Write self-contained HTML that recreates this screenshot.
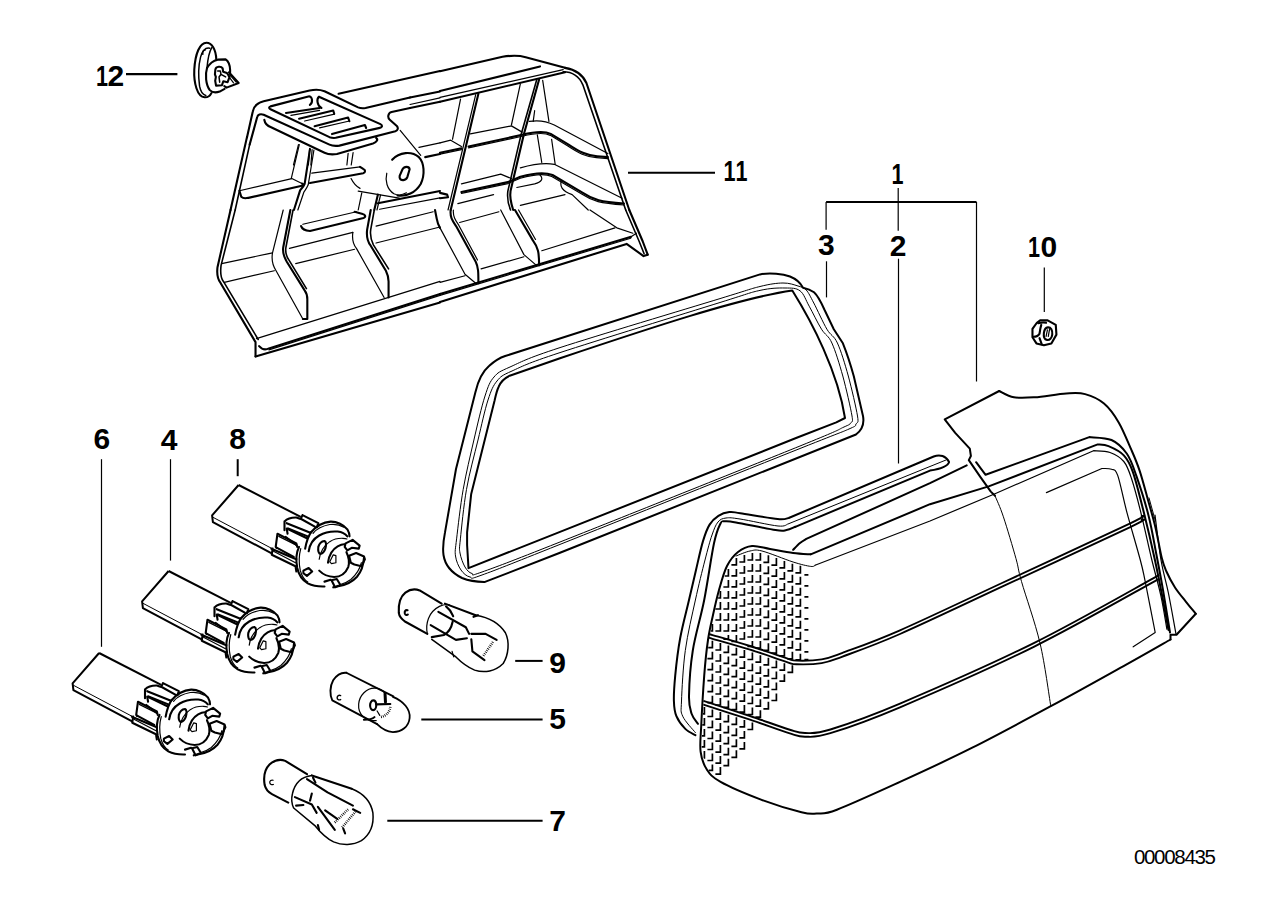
<!DOCTYPE html>
<html><head><meta charset="utf-8"><style>
html,body{margin:0;padding:0;background:#fff;}
body{width:1288px;height:910px;overflow:hidden;}
svg{display:block;}
</style></head><body>
<svg width="1288" height="910" viewBox="0 0 1288 910">
<rect width="1288" height="910" fill="#fff"/>
<g font-family="Liberation Sans" font-weight="bold" font-size="30" fill="#000" text-anchor="middle">
<text transform="translate(102.10,86) scale(0.72,1)">1</text>
<text transform="translate(115.90,86) scale(1,1)">2</text>
<text transform="translate(729.60,181) scale(0.72,1)">1</text>
<text transform="translate(741.50,181) scale(0.72,1)">1</text>
<text transform="translate(897.50,183.9) scale(0.72,1)">1</text>
<text transform="translate(826.40,254.6) scale(1,1)">3</text>
<text transform="translate(898.20,256) scale(1,1)">2</text>
<text transform="translate(1034.00,257) scale(0.72,1)">1</text>
<text transform="translate(1048.80,257) scale(1,1)">0</text>
<text transform="translate(101.90,449.2) scale(1,1)">6</text>
<text transform="translate(169.20,450) scale(1,1)">4</text>
<text transform="translate(237.70,448.9) scale(1,1)">8</text>
<text transform="translate(557.60,672.5) scale(1,1)">9</text>
<text transform="translate(557.60,729) scale(1,1)">5</text>
<text transform="translate(557.50,831.2) scale(1,1)">7</text>
</g>
<text x="1133.9" y="863.8" font-family="Liberation Sans" font-size="20.5" letter-spacing="-1.3" fill="#000">00008435</text>
<g stroke="#000" fill="none" stroke-width="2">
<line x1="126" y1="74.2" x2="177.4" y2="74.2" stroke-width="2.2"/>
<line x1="628" y1="172.7" x2="715" y2="172.7" stroke-width="2"/>
<line x1="898.2" y1="187.9" x2="898.2" y2="230.7" stroke-width="1.2"/>
<line x1="826.1" y1="202.1" x2="976.5" y2="202.1" stroke-width="2"/>
<line x1="826.1" y1="202" x2="826.1" y2="229.7" stroke-width="1.2"/>
<line x1="976.5" y1="202" x2="976.5" y2="381.5" stroke-width="1.2"/>
<line x1="826.5" y1="261.3" x2="826.5" y2="297.4" stroke-width="1.2"/>
<line x1="898.5" y1="258.7" x2="898.5" y2="463.5" stroke-width="1.2"/>
<line x1="1044.3" y1="267.4" x2="1044.3" y2="312" stroke-width="1.2"/>
<line x1="101.5" y1="459.2" x2="101.5" y2="646.8" stroke-width="1.2"/>
<line x1="170.5" y1="459.2" x2="170.5" y2="560.6" stroke-width="1.2"/>
<line x1="237.7" y1="459.2" x2="237.7" y2="476.2" stroke-width="2"/>
<line x1="515.2" y1="660.9" x2="542.6" y2="660.9" stroke-width="2"/>
<line x1="421.3" y1="719.6" x2="542.6" y2="719.6" stroke-width="2"/>
<line x1="387.3" y1="820.7" x2="542.6" y2="820.7" stroke-width="2"/>
</g>
<g fill="none" stroke="#000" stroke-linejoin="round">
<path d="M505.2,356 L760,274.4 C770,272.5 783,274 790,276.5 C795,278.5 800,282 803,287.7 C807,288.5 811,290 814,292.3 C817,295 821,302 824.6,310 L833.8,329.2 L842.9,343.3 C848,356 851,366 853.8,376.3 L863,416 C864.5,424 862,430 856,434.5 L560,552.8 L485,581.9 C475,582 468,580.5 462,578 C452,573 445,565 443.5,555 C442.5,548 443.5,540 445,532.4 L456,469 L475.4,392.2 C478,381 482,372 489,366 C494,361.5 499,358 505.2,356 Z" stroke-width="2"/>
<path d="M509.7,375.7 L560,358.2 C650,328 740,298 792.3,290.5 C812,322 838,372 845,418 L836.3,422.4 L796.7,437.8 L560,531.9 L468.5,568.1 L467.1,545 L467.1,532.4 L471.2,493.9 L494.6,400.5 C496,394 497,390 498.7,386.7 C501,381 505,378 509.7,375.7 Z" stroke-width="2"/>
<path d="M456.6,538.9 C457.9,527.8 460.3,505.9 463.2,489.4 C466.1,472.9 470.3,455.6 473.9,440.0 C477.5,424.4 481.6,406.5 485.0,396.0 C488.4,385.5 489.8,381.8 494.0,377.0 C498.2,372.2 499.0,371.9 510.0,367.0 C521.0,362.1 525.0,359.0 560.0,347.6 C595.0,336.2 686.7,308.8 720.0,298.6 C753.3,288.4 749.5,289.1 760.0,286.5 C770.5,283.9 776.7,283.1 783.0,283.0 C789.3,282.9 794.1,284.8 798.0,286.0 C801.9,287.2 803.6,287.2 806.2,290.0 C808.8,292.8 810.3,296.5 813.8,303.0 C817.2,309.5 823.0,322.5 826.9,329.2 C830.8,335.9 833.8,335.2 837.4,343.0 C841.0,350.8 844.9,363.8 848.3,376.0 C851.6,388.2 856.2,408.0 857.5,416.0 C858.8,424.0 857.4,421.8 856.0,424.0 C854.6,426.2 858.3,424.9 849.0,429.0 C839.7,433.1 848.2,429.3 800.0,448.5 C751.8,467.7 613.0,523.3 560.0,544.4 C507.0,565.5 497.0,569.6 482.0,575.0 C467.0,580.4 473.5,577.8 470.0,577.0 C466.5,576.2 463.4,573.5 461.0,570.0 C458.6,566.5 456.2,561.2 455.5,556.0 C454.8,550.8 455.3,550.0 456.6,538.9Z" stroke-width="1"/>
<path d="M460.4,538.9 C461.5,528.3 463.6,505.9 466.5,489.4 C469.4,472.9 474.4,454.9 478.0,440.0 C481.6,425.1 484.8,409.8 488.0,400.0 C491.2,390.2 493.0,385.8 497.0,381.0 C501.0,376.2 501.5,375.7 512.0,371.0 C522.5,366.3 525.3,364.0 560.0,352.6 C594.7,341.2 686.7,312.9 720.0,302.5 C753.3,292.1 749.2,292.8 760.0,290.4 C770.8,288.0 778.3,287.9 785.0,288.0 C791.7,288.1 796.0,287.8 800.0,290.8 C804.0,293.8 805.6,299.8 809.2,306.2 C812.8,312.6 817.7,323.1 821.5,329.2 C825.3,335.3 828.4,335.2 831.9,343.0 C835.4,350.8 839.4,363.8 842.8,376.0 C846.1,388.2 850.7,408.2 852.0,416.0 C853.3,423.8 851.8,421.2 850.5,423.0 C849.2,424.8 852.4,423.2 844.0,427.0 C835.6,430.8 847.3,426.8 800.0,446.0 C752.7,465.2 613.0,521.0 560.0,542.0 C507.0,563.0 496.7,566.8 482.0,572.0 C467.3,577.2 474.8,574.3 472.0,573.5 C469.2,572.7 467.0,570.4 465.0,567.0 C463.0,563.6 460.8,557.7 460.0,553.0 C459.2,548.3 459.3,549.5 460.4,538.9Z" stroke-width="1"/>
</g>
<g fill="none" stroke="#000" stroke-linejoin="round" stroke-linecap="round">
<path d="M810.7,554.3 C807.8,554.1 799.9,553.9 793.1,553.0 C786.3,552.1 776.9,550.2 770.0,549.0 C763.1,547.8 757.3,545.5 752.0,546.0 C746.7,546.5 742.2,548.7 738.0,552.0 C733.8,555.3 730.2,559.7 727.0,566.0 C723.8,572.3 721.3,581.8 719.0,590.0 C716.7,598.2 714.8,606.7 713.0,615.0 C711.2,623.3 709.5,629.9 708.0,640.0 C706.5,650.1 705.3,661.4 704.2,675.8 C703.1,690.2 701.8,713.7 701.2,726.3 C700.6,738.9 699.7,744.4 700.6,751.6 C701.5,758.8 703.4,764.2 706.7,769.3 C710.0,774.3 711.6,776.8 720.6,781.9 C729.6,787.0 747.5,794.5 761.0,799.6 C774.5,804.7 792.2,809.9 801.5,812.2 C810.8,814.5 810.7,813.9 816.6,813.5 C822.5,813.1 823.0,815.0 836.9,809.7 C850.8,804.4 877.4,792.2 900.0,781.9 C922.6,771.6 947.2,760.3 972.3,747.7 C997.4,735.1 1025.1,720.1 1050.8,706.2 C1076.5,692.4 1106.2,675.7 1126.2,664.6 C1146.2,653.5 1163.1,643.7 1170.5,639.5" stroke-width="2"/>
<path d="M1170.5,639.5 L1170.5,634.7 L1176.5,634.7 L1195.8,613.8" stroke-width="2"/>
<path d="M1195.8,613.8 C1194.2,611.8 1189.5,606.2 1186.0,601.8 C1182.5,597.4 1178.3,592.6 1175.0,587.5 C1171.7,582.4 1168.4,575.9 1166.2,571.0 C1164.0,566.1 1163.6,565.3 1161.8,558.0 C1160.0,550.7 1157.7,536.9 1155.4,527.2 C1153.1,517.5 1150.6,509.4 1148.0,500.0 C1145.4,490.6 1142.4,479.0 1139.6,470.6 C1136.8,462.2 1134.8,457.7 1131.3,449.7 C1127.8,441.7 1123.2,430.1 1118.7,422.4 C1114.2,414.7 1109.6,408.2 1104.0,403.5 C1098.4,398.8 1091.4,395.8 1085.1,394.1 C1078.8,392.4 1074.7,393.0 1066.3,393.5 C1057.9,394.0 1043.5,396.7 1034.8,397.3 C1026.1,397.9 1019.8,398.4 1013.9,397.3 C1008.0,396.2 1001.7,392.1 999.2,391.0" stroke-width="2"/>
<path d="M999.2,391.0 L944.7,419.3 L955.2,432.9 L969.8,448.6 L970.9,456.0 L968.8,460.1 L980.3,476.9 L990.8,491.6 L995.0,495.8" stroke-width="2"/>
<path d="M995.0,495.8 C996.4,499.3 999.9,506.3 1003.4,516.8 C1006.9,527.3 1013.0,547.9 1016.0,558.7 C1019.0,569.5 1017.5,567.4 1021.5,581.5 C1025.5,595.6 1035.1,622.3 1040.0,643.1 C1044.9,663.9 1049.0,695.7 1050.8,706.2" stroke-width="1"/>
<path d="M793.1,549.9 C794.2,548.8 797.8,544.8 800.0,543.0 C802.2,541.2 805.2,539.6 806.3,538.9 L930,483.2 L966.7,465.4" stroke-width="2"/>
<path d="M976.1,462.2 L985.6,474.8 L1089.3,437.1  C1093.0,437.6 1105.2,437.2 1111.5,440.0 C1117.8,442.8 1122.8,447.9 1126.9,453.8 C1131.0,459.7 1132.6,465.1 1136.2,475.4 C1139.8,485.7 1145.1,502.1 1148.5,515.4 C1151.9,528.7 1154.1,542.6 1156.5,555.0 C1158.9,567.4 1160.8,577.1 1163.0,590.0 C1165.2,602.9 1168.8,625.4 1170.0,632.5" stroke-width="2"/>
<path d="M810.7,554.3 L930,504.2 L988.7,486.4 L1097.7,444.4  C1099.5,444.7 1104.2,444.4 1108.5,446.2 C1112.8,448.0 1119.7,451.0 1123.8,455.4 C1127.9,459.8 1129.7,462.8 1133.0,472.3 C1136.3,481.8 1140.2,497.9 1143.8,512.3 C1147.4,526.7 1151.6,544.7 1154.6,558.5 C1157.6,572.3 1159.7,583.1 1162.0,595.0 C1164.3,606.9 1167.4,624.2 1168.5,630.0" stroke-width="2"/>
<path d="M815,565.3 L930,521 L995,493.7 L1093.5,450.7  C1096.2,451.0 1105.0,450.7 1110.0,452.5 C1115.0,454.3 1120.2,457.2 1123.8,461.5 C1127.4,465.8 1128.7,470.0 1131.5,478.5 C1134.3,487.0 1137.5,499.0 1140.8,512.3 C1144.1,525.6 1148.2,544.6 1151.5,558.5 C1154.8,572.4 1158.2,583.6 1160.8,595.4 C1163.4,607.2 1165.9,623.6 1166.9,629.2" stroke-width="1.2"/>
<path d="M1155.0,515.0 C1156.0,522.5 1158.8,547.0 1161.0,560.0 C1163.2,573.0 1165.9,580.7 1168.4,593.0 C1170.9,605.3 1174.7,627.2 1176.0,634.0" stroke-width="1.2"/>
<path d="M1046.4,492.6 L1101.9,468.5  C1103.5,468.6 1108.9,468.1 1111.5,469.2 C1114.1,470.3 1115.1,468.2 1117.7,475.4 C1120.3,482.6 1123.1,498.2 1126.9,512.3 C1130.7,526.4 1137.2,548.4 1140.3,560.0 C1143.4,571.6 1142.8,569.9 1145.3,582.0 C1147.8,594.1 1153.5,624.1 1155.2,632.5 L1133.2,646.8" stroke-width="1.2"/>
<path d="M1149,497.9 L1155.4,521" stroke-width="1"/>
<path d="M736.0,556.0 C738.3,555.2 745.7,551.8 750.0,551.0 C754.3,550.2 754.8,549.2 762.0,551.0 C769.2,552.8 785.0,559.4 793.1,562.0 C801.2,564.6 807.1,565.9 810.7,566.4 C814.4,566.9 814.3,565.5 815.0,565.3" stroke-width="1"/>
<path d="M709.3,634.1 C716.1,636.1 737.2,642.0 750.0,646.0 C762.8,650.0 778.6,655.7 786.3,658.1 C794.0,660.5 790.5,660.4 796.4,660.6 C802.3,660.8 814.1,660.6 821.7,659.4 C829.3,658.1 828.9,658.0 841.9,653.1 C854.9,648.2 873.1,642.1 900.0,630.3 C926.9,618.5 964.6,600.4 1003.1,582.5 C1041.6,564.6 1107.7,534.2 1130.8,523.1 C1153.9,512.0 1139.9,517.2 1141.7,516.0" stroke-width="1.9"/>
<path d="M709.3,637.8 C716.1,639.8 737.2,645.7 750.0,649.7 C762.8,653.7 778.6,659.4 786.3,661.8 C794.0,664.2 790.5,664.1 796.4,664.3 C802.3,664.5 814.1,664.4 821.7,663.1 C829.3,661.9 828.9,661.7 841.9,656.8 C854.9,652.0 873.1,645.8 900.0,634.0 C926.9,622.2 964.6,604.1 1003.1,586.2 C1041.6,568.3 1107.7,537.9 1130.8,526.8 C1153.9,515.7 1139.9,520.9 1141.7,519.7" stroke-width="1.9"/>
<path d="M704.2,701.1 C711.8,703.6 735.9,711.3 750.0,716.0 C764.1,720.7 779.8,726.7 789.0,729.5 C798.2,732.3 798.1,733.0 805.0,733.0 C811.9,733.0 814.6,734.4 830.4,729.5 C846.2,724.6 866.1,718.0 900.0,703.6 C933.9,689.2 990.7,664.5 1033.8,643.1 C1076.9,621.7 1137.7,586.7 1158.5,575.4" stroke-width="1.9"/>
<path d="M704.2,704.8 C711.8,707.3 735.9,715.0 750.0,719.7 C764.1,724.4 779.8,730.4 789.0,733.2 C798.2,736.0 798.1,736.7 805.0,736.7 C811.9,736.7 814.6,738.1 830.4,733.2 C846.2,728.3 866.1,721.7 900.0,707.3 C933.9,692.9 990.7,668.2 1033.8,646.8 C1076.9,625.4 1137.7,590.4 1158.5,579.1" stroke-width="1.9"/>
<path d="M695.4,735.2 C693.7,734.2 688.5,732.1 685.3,728.9 C682.1,725.7 678.3,720.9 676.4,716.2 C674.5,711.6 674.1,707.7 673.9,701.0 C673.7,694.3 674.2,686.3 675.2,675.8 C676.2,665.3 677.9,650.6 680.2,638.0 C682.5,625.4 686.4,611.3 689.0,600.0 C691.6,588.7 693.7,579.8 696.0,570.0 C698.3,560.2 700.7,548.7 703.0,541.1 C705.3,533.5 707.0,528.8 709.6,524.6 C712.2,520.4 715.1,517.9 718.4,515.8 C721.7,513.7 725.6,512.5 729.3,512.1 C732.9,511.7 732.2,512.0 740.3,513.2 C748.4,514.4 769.6,518.3 777.7,519.1 C785.8,519.9 786.9,518.2 788.7,518.0 L933.7,456.5 C940,454 946,456 949.1,462 C948,466 940,469 930,470.6 L795.3,526.8" stroke-width="2"/>
<path d="M695.4,732.6 C693.3,729.9 685.0,721.5 682.7,716.2 C680.4,710.9 681.1,712.0 681.5,701.0 C681.9,690.0 683.0,667.3 685.3,650.5 C687.6,633.7 692.1,615.1 695.4,600.0 C698.7,584.9 702.2,570.8 705.0,560.0 C707.8,549.2 709.8,541.3 712.0,535.0 C714.2,528.7 715.7,524.8 718.0,522.0 C720.3,519.2 722.3,518.5 726.0,518.0 C729.7,517.5 731.3,517.7 740.0,519.0 C748.7,520.3 770.0,525.2 778.0,526.0 C786.0,526.8 786.3,524.3 788.0,524.0 L946,460" stroke-width="1"/>
<path d="M697.9,723.8 C696.9,722.1 693.1,718.3 691.6,713.7 C690.1,709.1 688.8,706.5 689.0,696.0 C689.2,685.5 690.3,666.5 692.8,650.5 C695.3,634.5 700.7,617.9 704.2,600.0 C707.7,582.1 711.3,556.0 714.0,543.3 C716.7,530.5 718.7,527.2 720.5,523.5 C722.3,519.8 722.4,521.5 725.0,521.3 C727.6,521.1 727.6,520.9 736.0,522.4 C744.4,523.9 767.1,528.8 775.5,530.1 C783.9,531.4 783.2,530.7 786.5,530.1 C789.8,529.5 793.8,527.3 795.3,526.8" stroke-width="2"/>
</g>
<path d="M704.4,706.9V713.9H702.9M704.4,717.9V724.9H702.3M704.4,728.9V735.9H702.0M704.4,739.9V746.9H701.7M704.4,750.9V757.9H703.8M712.4,624.0V631.0H710.8M712.4,640.7V647.7H708.2M712.4,651.7V658.7H707.4M712.4,662.7V669.7H707.4M712.4,673.7V680.7H707.4M712.4,684.7V691.7H707.4M712.4,695.7V702.7H707.4M712.4,709.5V716.5H707.4M712.4,720.5V727.5H707.4M712.4,731.5V738.5H707.4M712.4,742.5V749.5H707.4M712.4,753.5V760.5H707.4M712.4,764.5V770.3H708.8M720.4,591.0V598.0H718.1M720.4,602.0V609.0H715.4M720.4,613.0V620.0H715.4M720.4,624.0V631.0H715.4M720.4,643.0V650.0H715.4M720.4,654.0V661.0H715.4M720.4,665.0V672.0H715.4M720.4,676.0V683.0H715.4M720.4,687.0V694.0H715.4M720.4,698.0V705.0H715.4M720.4,712.1V719.1H715.4M720.4,723.1V730.1H715.4M720.4,734.1V741.1H715.4M720.4,745.1V752.1H715.4M720.4,756.1V763.1H715.4M720.4,767.1V774.1H715.4M728.4,569.0V576.0H724.7M728.4,580.0V587.0H723.4M728.4,591.0V598.0H723.4M728.4,602.0V609.0H723.4M728.4,613.0V620.0H723.4M728.4,624.0V631.0H723.4M728.4,635.0V639.2H723.4M728.4,645.4V652.4H723.4M728.4,656.4V663.4H723.4M728.4,667.4V674.4H723.4M728.4,678.4V685.4H723.4M728.4,689.4V696.4H723.4M728.4,700.4V707.4H723.4M728.4,714.7V721.7H723.4M728.4,725.7V732.7H723.4M728.4,736.7V743.7H723.4M728.4,747.7V754.7H723.4M728.4,758.7V765.7H723.4M736.4,557.9V564.9H731.4M736.4,568.9V575.9H731.4M736.4,579.9V586.9H731.4M736.4,590.9V597.9H731.4M736.4,601.9V608.9H731.4M736.4,612.9V619.9H731.4M736.4,623.9V630.9H731.4M736.4,634.9V641.5H731.4M736.4,647.7V654.7H731.4M736.4,658.7V665.7H731.4M736.4,669.7V676.7H731.4M736.4,680.7V687.7H731.4M736.4,691.7V698.7H731.4M736.4,702.7V709.7H731.4M736.4,717.3V724.3H731.4M736.4,728.3V735.3H731.4M736.4,739.3V746.3H731.4M736.4,750.3V757.3H731.4M744.4,555.0V562.0H739.4M744.4,566.0V573.0H739.4M744.4,577.0V584.0H739.4M744.4,588.0V595.0H739.4M744.4,599.0V606.0H739.4M744.4,610.0V617.0H739.4M744.4,621.0V628.0H739.4M744.4,632.0V639.0H739.4M744.4,650.1V657.1H739.4M744.4,661.1V668.1H739.4M744.4,672.1V679.1H739.4M744.4,683.1V690.1H739.4M744.4,694.1V701.1H739.4M744.4,705.1V712.1H739.4M744.4,719.9V726.9H739.4M744.4,730.9V737.9H739.4M744.4,741.9V748.9H739.4M752.4,553.0V560.0H747.4M752.4,564.0V571.0H747.4M752.4,575.0V582.0H747.4M752.4,586.0V593.0H747.4M752.4,597.0V604.0H747.4M752.4,608.0V615.0H747.4M752.4,619.0V626.0H747.4M752.4,630.0V637.0H747.4M752.4,641.0V646.3H747.4M752.4,652.5V659.5H747.4M752.4,663.5V670.5H747.4M752.4,674.5V681.5H747.4M752.4,685.5V692.5H747.4M752.4,696.5V703.5H747.4M752.4,707.5V714.5H747.4M752.4,722.5V729.5H747.4M760.4,553.0V560.0H755.4M760.4,564.0V571.0H755.4M760.4,575.0V582.0H755.4M760.4,586.0V593.0H755.4M760.4,597.0V604.0H755.4M760.4,608.0V615.0H755.4M760.4,619.0V626.0H755.4M760.4,630.0V637.0H755.4M760.4,641.0V648.0H755.4M760.4,655.2V662.2H755.4M760.4,666.2V673.2H755.4M760.4,677.2V684.2H755.4M760.4,688.2V695.2H755.4M760.4,699.2V706.2H755.4M760.4,710.2V717.2H755.4M768.4,555.3V562.3H763.4M768.4,566.3V573.3H763.4M768.4,577.3V584.3H763.4M768.4,588.3V595.3H763.4M768.4,599.3V606.3H763.4M768.4,610.3V617.3H763.4M768.4,621.3V628.3H763.4M768.4,632.3V639.3H763.4M768.4,643.3V650.3H763.4M768.4,657.8V664.8H763.4M768.4,668.8V675.8H763.4M768.4,679.8V686.8H763.4M768.4,690.8V697.8H763.4M768.4,701.8V708.8H763.4M776.4,558.1V565.1H771.4M776.4,569.1V576.1H771.4M776.4,580.1V587.1H771.4M776.4,591.1V598.1H771.4M776.4,602.1V609.1H771.4M776.4,613.1V620.1H771.4M776.4,624.1V631.1H771.4M776.4,635.1V642.1H771.4M776.4,646.1V653.1H771.4M776.4,660.5V667.5H771.4M776.4,671.5V678.5H771.4M776.4,682.5V689.5H771.4M776.4,693.5V700.5H771.4M784.4,560.9V567.9H779.4M784.4,571.9V578.9H779.4M784.4,582.9V589.9H779.4M784.4,593.9V600.9H779.4M784.4,604.9V611.9H779.4M784.4,615.9V622.9H779.4M784.4,626.9V633.9H779.4M784.4,637.9V644.9H779.4M784.4,648.9V655.9H779.4M784.4,663.2V670.2H779.4M784.4,674.2V681.2H779.4M792.4,563.8V570.8H787.4M792.4,574.8V581.8H787.4M792.4,585.8V592.8H787.4M792.4,596.8V603.8H787.4M792.4,607.8V614.8H787.4M792.4,618.8V625.8H787.4M792.4,629.8V636.8H787.4M792.4,640.8V647.8H787.4M792.4,651.8V658.8H787.4M792.4,665.3V672.3H787.4M800.4,565.8V572.8H795.4M800.4,576.8V583.8H795.4M800.4,587.8V594.8H795.4M800.4,598.8V605.8H795.4M800.4,609.8V616.8H795.4M800.4,620.8V627.8H795.4M800.4,631.8V638.8H795.4M800.4,642.8V649.8H795.4M800.4,653.8V659.9H795.4M804.4,574.8H808.4M804.4,585.8H808.4M804.4,596.8H808.4M804.4,607.8H808.4M804.4,618.8H808.4M804.4,629.8H808.4M804.4,640.8H808.4M804.4,651.8H808.4M804.4,659.5H808.4" fill="none" stroke="#000" stroke-width="1.7"/>
<g transform="translate(250,85) scale(0.124224)" fill="none" stroke="#000" stroke-linejoin="round" stroke-linecap="round">
<path d="M-24,420 L22,215 C30,170 60,142 110,130 L480,45 C520,35 560,35 600,50 L870,180 C890,188 910,188 930,185 L1288,100" stroke-width="2.1" vector-effect="non-scaling-stroke"/>
<path d="M-3,480 L58,258 C62,238 85,230 110,240 L640,480 C660,490 690,492 720,488 L1170,372 C1192,365 1195,345 1182,330 L1125,280 C1105,262 1110,225 1140,218 L1288,185" stroke-width="2.1" vector-effect="non-scaling-stroke"/>
<path d="M115,280 C120,310 140,330 170,340 L600,545 C630,560 670,560 700,555 L990,470 C1020,460 1035,440 1015,425" stroke-width="2.1" vector-effect="non-scaling-stroke"/>
<path d="M555,95 L1050,315 C1070,325 1065,342 1045,345 L690,425 C670,428 655,425 640,420 L165,195 C150,188 150,178 165,172 L470,92 C500,85 512,140 482,160" stroke-width="2.1" vector-effect="non-scaling-stroke"/>
<path d="M555,95 C535,110 538,165 575,185" stroke-width="2.1" vector-effect="non-scaling-stroke"/>
<path d="M290,225 L560,185 M395,272 L670,205 L678,232 M520,332 L790,262 L800,292 M660,395 L925,322 L935,346" stroke-width="2.1" vector-effect="non-scaling-stroke"/>
<path d="M330,245 L560,205 M440,290 L680,235 M560,345 L800,290" stroke-width="1.2" vector-effect="non-scaling-stroke"/>
<path d="M390,480 L350,644 M480,510 L470,644 M500,520 L490,644 M790,550 L780,644 M830,545 L815,644" stroke-width="1.2" vector-effect="non-scaling-stroke"/>
</g>
<g transform="translate(210,50) scale(0.178571)" fill="none" stroke="#000" stroke-linejoin="round" stroke-linecap="round">
<path d="M720,245 L1288,118" stroke-width="2.1" vector-effect="non-scaling-stroke"/>
<path d="M1120,266 L1288,232" stroke-width="2.1" vector-effect="non-scaling-stroke"/>
<path d="M1120,305 L1288,268" stroke-width="1.2" vector-effect="non-scaling-stroke"/>
<path d="M1120,325 L1288,290" stroke-width="2.1" vector-effect="non-scaling-stroke"/>
<path d="M207,488 L115,896" stroke-width="2.1" vector-effect="non-scaling-stroke"/>
<path d="M222,530 L141,896" stroke-width="1.6" vector-effect="non-scaling-stroke"/>
<path d="M165,788 L458,720 L515,748" stroke-width="1.2" vector-effect="non-scaling-stroke"/>
<path d="M165,788 L175,822 C185,832 200,832 215,828 L515,760 C525,758 525,750 515,748" stroke-width="2.1" vector-effect="non-scaling-stroke"/>
<path d="M500,530 L455,720" stroke-width="1.2" vector-effect="non-scaling-stroke"/>
<path d="M560,555 L530,750 C525,765 515,775 505,785 L470,896" stroke-width="2.1" vector-effect="non-scaling-stroke"/>
<path d="M582,560 L550,755 C542,775 532,785 526,795 L492,896" stroke-width="1.2" vector-effect="non-scaling-stroke"/>
<path d="M570,690 L840,655" stroke-width="1.2" vector-effect="non-scaling-stroke"/>
<path d="M560,745 L858,690 C872,686 872,670 858,666 L840,655" stroke-width="2.1" vector-effect="non-scaling-stroke"/>
<path d="M790,720 C800,740 820,765 840,775" stroke-width="1.2" vector-effect="non-scaling-stroke"/>
<path d="M1020,615 C1060,570 1130,565 1170,600 C1200,630 1205,700 1180,750 C1150,800 1100,822 1050,815" stroke-width="2.1" vector-effect="non-scaling-stroke"/>
<path d="M990,690 C980,730 990,780 1030,805 C1050,815 1080,812 1100,800" stroke-width="1.2" vector-effect="non-scaling-stroke"/>
<path d="M1062,705 L1078,668 C1088,650 1115,650 1118,668 L1105,712 C1098,732 1068,735 1062,715 Z" stroke-width="2.1" vector-effect="non-scaling-stroke"/>
<path d="M1065,450 L1180,590" stroke-width="1.2" vector-effect="non-scaling-stroke"/>
<path d="M1170,545 L1288,520" stroke-width="1.2" vector-effect="non-scaling-stroke"/>
<path d="M1205,600 L1288,582" stroke-width="2.1" vector-effect="non-scaling-stroke"/>
<path d="M940,858 L1288,790" stroke-width="2.1" vector-effect="non-scaling-stroke"/>
<path d="M950,892 L1288,828" stroke-width="1.2" vector-effect="non-scaling-stroke"/>
<path d="M830,790 L1060,830" stroke-width="1.2" vector-effect="non-scaling-stroke"/>
<path d="M850,800 L830,896" stroke-width="1.2" vector-effect="non-scaling-stroke"/>
<path d="M940,810 L920,896" stroke-width="2.1" vector-effect="non-scaling-stroke"/>
<path d="M955,812 L935,896" stroke-width="1.2" vector-effect="non-scaling-stroke"/>
</g>
<g transform="translate(440,50) scale(0.178571)" fill="none" stroke="#000" stroke-linejoin="round" stroke-linecap="round">
<path d="M0,119 L350,38 C400,30 450,32 480,40 L700,100" stroke-width="2.1" vector-effect="non-scaling-stroke"/>
<path d="M700,100 C760,110 800,140 820,185 L1060,896" stroke-width="2.1" vector-effect="non-scaling-stroke"/>
<path d="M690,122 C740,122 780,150 800,195 L1040,896" stroke-width="1.6" vector-effect="non-scaling-stroke"/>
<path d="M0,230 L560,92" stroke-width="2.1" vector-effect="non-scaling-stroke"/>
<path d="M0,265 L690,110" stroke-width="1.2" vector-effect="non-scaling-stroke"/>
<path d="M0,290 L700,125" stroke-width="2.1" vector-effect="non-scaling-stroke"/>
<path d="M215,245 L60,896" stroke-width="2.1" vector-effect="non-scaling-stroke"/>
<path d="M200,250 L45,896" stroke-width="1.2" vector-effect="non-scaling-stroke"/>
<path d="M555,165 L470,470 L395,790 C390,820 395,850 410,896" stroke-width="2.1" vector-effect="non-scaling-stroke"/>
<path d="M542,165 L455,470 L380,790 C375,830 380,860 395,896" stroke-width="1.6" vector-effect="non-scaling-stroke"/>
<path d="M115,275 L70,500 M450,190 L400,420 M575,170 L610,400 M530,340 L522,400 M545,475 L570,630 M625,500 L645,640" stroke-width="1.2" vector-effect="non-scaling-stroke"/>
<path d="M0,520 L60,505 L120,540 M170,470 L400,425 L460,460 M500,400 C560,390 600,400 640,420 L940,580" stroke-width="1.2" vector-effect="non-scaling-stroke"/>
<path d="M0,575 L120,550 M160,540 L460,475 C520,460 580,450 620,470 L720,530 C780,570 820,590 880,595 L940,600" stroke-width="2.1" vector-effect="non-scaling-stroke"/>
<path d="M0,583 L120,558 M160,548 L460,483 C520,468 580,458 618,478 L716,538 C776,578 816,598 876,603 L940,608" stroke-width="1.2" vector-effect="non-scaling-stroke"/>
<path d="M120,750 L340,695 L400,720 M450,660 C520,640 580,630 640,640 L1020,830" stroke-width="1.2" vector-effect="non-scaling-stroke"/>
<path d="M120,795 L380,740 L450,710 C520,690 580,680 630,700 L800,800 C860,840 900,850 1030,860" stroke-width="2.1" vector-effect="non-scaling-stroke"/>
<path d="M120,803 L380,748 L450,718 C520,698 580,688 626,708 L796,808 C856,848 896,858 1030,868" stroke-width="1.2" vector-effect="non-scaling-stroke"/>
<path d="M100,860 L300,810 M450,870 L700,810 M560,700 C580,720 570,740 530,750 L430,770 M680,730 C670,760 680,790 740,810 L830,896" stroke-width="1.2" vector-effect="non-scaling-stroke"/>
<path d="M0,800 L40,810 L45,825 L0,830" stroke-width="2.1" vector-effect="non-scaling-stroke"/>
</g>
<g transform="translate(210,210) scale(0.178571)" fill="none" stroke="#000" stroke-linejoin="round" stroke-linecap="round">
<path d="M115,0 L42,320 C37,360 45,390 60,410 L255,740 L255,820" stroke-width="2.1" vector-effect="non-scaling-stroke"/>
<path d="M141,0 L62,310 C57,350 60,380 75,400 L270,725" stroke-width="1.6" vector-effect="non-scaling-stroke"/>
<path d="M260,720 L1288,400" stroke-width="1.2" vector-effect="non-scaling-stroke"/>
<path d="M275,762 C290,780 310,785 330,775 L1288,470" stroke-width="2.1" vector-effect="non-scaling-stroke"/>
<path d="M330,783 L1288,478" stroke-width="1.2" vector-effect="non-scaling-stroke"/>
<path d="M255,820 L1288,518" stroke-width="2.1" vector-effect="non-scaling-stroke"/>
<path d="M65,300 L350,240 M80,405 L360,340 M445,215 L800,125 M480,300 L810,220 M930,90 L1250,10 M930,185 L1288,95" stroke-width="1.2" vector-effect="non-scaling-stroke"/>
<path d="M410,0 L350,240 C345,270 350,310 370,340 L520,610" stroke-width="1.2" vector-effect="non-scaling-stroke"/>
<path d="M450,0 L410,210 C405,250 420,270 430,290 L530,450 C545,470 545,480 545,500 L545,610 L520,610" stroke-width="2.1" vector-effect="non-scaling-stroke"/>
<path d="M465,0 L425,210 C420,245 430,265 445,285 L540,440" stroke-width="1.6" vector-effect="non-scaling-stroke"/>
<path d="M800,125 C795,160 800,190 820,215 L975,490" stroke-width="1.2" vector-effect="non-scaling-stroke"/>
<path d="M900,0 L880,110 C875,150 885,180 900,200 L985,340 C995,360 1000,380 1000,400 L1000,490" stroke-width="2.1" vector-effect="non-scaling-stroke"/>
<path d="M920,0 L900,110 C895,145 905,175 915,195 L1000,330" stroke-width="1.6" vector-effect="non-scaling-stroke"/>
<path d="M1260,0 L1270,50 C1275,80 1285,95 1288,100" stroke-width="2.1" vector-effect="non-scaling-stroke"/>
<path d="M510,90 C515,105 530,115 560,118 L860,45 C875,40 870,25 855,22 L810,10" stroke-width="2.1" vector-effect="non-scaling-stroke"/>
<path d="M520,80 L820,10" stroke-width="1.2" vector-effect="non-scaling-stroke"/>
</g>
<g transform="translate(440,210) scale(0.178571)" fill="none" stroke="#000" stroke-linejoin="round" stroke-linecap="round">
<path d="M0,405 L140,368" stroke-width="1.2" vector-effect="non-scaling-stroke"/>
<path d="M0,470 L1070,150" stroke-width="2.1" vector-effect="non-scaling-stroke"/>
<path d="M0,478 L1068,158" stroke-width="1.2" vector-effect="non-scaling-stroke"/>
<path d="M0,515 L1045,190 L1140,258 L1163,250" stroke-width="2.1" vector-effect="non-scaling-stroke"/>
<path d="M1070,150 L1100,130" stroke-width="1.2" vector-effect="non-scaling-stroke"/>
<path d="M60,0 C55,40 70,60 90,90 L200,290 C215,320 215,350 215,410" stroke-width="2.1" vector-effect="non-scaling-stroke"/>
<path d="M75,0 C72,35 85,55 105,85 L210,280" stroke-width="1.2" vector-effect="non-scaling-stroke"/>
<path d="M0,100 L140,360 L200,410" stroke-width="1.2" vector-effect="non-scaling-stroke"/>
<path d="M420,0 L520,170 C550,210 555,240 555,310" stroke-width="2.1" vector-effect="non-scaling-stroke"/>
<path d="M440,0 L535,165" stroke-width="1.2" vector-effect="non-scaling-stroke"/>
<path d="M340,0 L470,250 L540,310" stroke-width="1.2" vector-effect="non-scaling-stroke"/>
<path d="M1060,0 L1135,175 L1163,250" stroke-width="2.1" vector-effect="non-scaling-stroke"/>
<path d="M1040,0 L1115,175 L1143,245" stroke-width="1.6" vector-effect="non-scaling-stroke"/>
<path d="M840,0 L990,100 L1080,130" stroke-width="1.2" vector-effect="non-scaling-stroke"/>
<path d="M110,70 L330,10 M230,330 L470,262 M570,228 L980,100" stroke-width="1.2" vector-effect="non-scaling-stroke"/>
</g>
<g transform="translate(0,0)">
<g fill="none" stroke="#000" stroke-linejoin="round">
<path d="M238.6,485 L300.7,516.9" stroke-width="2"/>
<path d="M238.6,485 L212.1,515.4 L212.9,522.1 L272.1,553.6" stroke-width="2"/>
<path d="M212.6,517.1 L272.1,548.6" stroke-width="1"/>
</g>
<g transform="translate(270,510) scale(0.087873)" fill="none" stroke="#000" stroke-linejoin="round" stroke-linecap="round">
<path d="M470,250 C520,190 600,140 690,132 C760,130 840,170 880,220 C895,245 905,275 905,300" stroke-width="2.1" vector-effect="non-scaling-stroke"/>
<path d="M470,250 C440,290 415,360 400,440 M330,420 C300,480 295,580 310,660 C325,730 370,800 430,835 C490,865 560,872 620,870" stroke-width="2.1" vector-effect="non-scaling-stroke"/>
<path d="M350,440 C328,520 330,620 345,690 C362,750 390,795 430,820" stroke-width="1.2" vector-effect="non-scaling-stroke"/>
<path d="M490,265 C530,215 600,180 680,165 C740,158 800,170 840,195" stroke-width="1.2" vector-effect="non-scaling-stroke"/>
<path d="M440,470 C450,400 490,330 560,290 C620,255 700,240 770,245 C820,250 860,275 880,300" stroke-width="2.1" vector-effect="non-scaling-stroke"/>
<path d="M560,560 C570,480 610,410 680,360 C720,335 780,320 830,322 C850,323 865,325 875,330" stroke-width="1.2" vector-effect="non-scaling-stroke"/>
<path d="M660,600 C670,520 710,450 770,415 C800,398 830,388 850,390" stroke-width="2.1" vector-effect="non-scaling-stroke"/>
<path d="M560,690 C600,730 660,760 730,762 C800,762 860,720 890,650 C905,600 900,540 870,480" stroke-width="2.1" vector-effect="non-scaling-stroke"/>
<path d="M1070,540 C1065,620 1040,700 990,760 C940,815 870,850 790,865 C760,870 735,875 720,880" stroke-width="2.1" vector-effect="non-scaling-stroke"/>
<path d="M1040,600 C1020,680 980,740 920,790 C880,820 840,838 800,848" stroke-width="1.2" vector-effect="non-scaling-stroke"/>
<path d="M860,380 L940,340 L1020,405 L1010,440 L930,430 L880,460 L850,420 Z" stroke-width="2.1" vector-effect="non-scaling-stroke"/>
<path d="M900,520 L980,490 L1070,530 L1080,560 L1040,640 L960,620 L920,600 L910,560 Z" stroke-width="2.1" vector-effect="non-scaling-stroke"/>
<path d="M380,690 L440,660 L480,700 L420,750 L380,720 Z" stroke-width="2.1" vector-effect="non-scaling-stroke"/>
<path d="M700,800 L760,785 L800,850 L740,880 Z M620,815 L690,795" stroke-width="2.1" vector-effect="non-scaling-stroke"/>
<path d="M550,420 C560,385 590,355 620,352 C640,360 640,400 630,440 C620,470 600,495 575,500 C550,495 545,460 550,420 Z" stroke-width="2.1" vector-effect="non-scaling-stroke"/>
<path d="M720,510 L750,520 L750,600 L700,610 L680,590 Z" stroke-width="1.2" vector-effect="non-scaling-stroke"/>
<path d="M370,58 L550,150 L535,195 M350,100 L510,190 M370,58 L350,100" stroke-width="2.1" vector-effect="non-scaling-stroke"/>
<path d="M165,130 C200,95 260,85 300,86 L340,100 M165,130 L165,230" stroke-width="2.1" vector-effect="non-scaling-stroke"/>
<path d="M190,150 L460,260 M205,210 L430,300 M190,210 L200,270" stroke-width="2.1" vector-effect="non-scaling-stroke"/>
<path d="M85,270 L300,380 L310,420 M85,270 L65,420 L75,432" stroke-width="2.1" vector-effect="non-scaling-stroke"/>
<path d="M15,440 L300,560 M20,510 L290,640 L300,700 M30,440 L20,510" stroke-width="2.1" vector-effect="non-scaling-stroke"/>
<path d="M100,300 L300,400 M40,470 L290,600" stroke-width="1.2" vector-effect="non-scaling-stroke"/>
<path d="M180,307 L300,398 M75,428 L270,533 M203,218 L420,322" stroke-width="2.1" vector-effect="non-scaling-stroke"/>
</g>
</g>
<g transform="translate(-70,86)">
<g fill="none" stroke="#000" stroke-linejoin="round">
<path d="M238.6,485 L300.7,516.9" stroke-width="2"/>
<path d="M238.6,485 L212.1,515.4 L212.9,522.1 L272.1,553.6" stroke-width="2"/>
<path d="M212.6,517.1 L272.1,548.6" stroke-width="1"/>
</g>
<g transform="translate(270,510) scale(0.087873)" fill="none" stroke="#000" stroke-linejoin="round" stroke-linecap="round">
<path d="M470,250 C520,190 600,140 690,132 C760,130 840,170 880,220 C895,245 905,275 905,300" stroke-width="2.1" vector-effect="non-scaling-stroke"/>
<path d="M470,250 C440,290 415,360 400,440 M330,420 C300,480 295,580 310,660 C325,730 370,800 430,835 C490,865 560,872 620,870" stroke-width="2.1" vector-effect="non-scaling-stroke"/>
<path d="M350,440 C328,520 330,620 345,690 C362,750 390,795 430,820" stroke-width="1.2" vector-effect="non-scaling-stroke"/>
<path d="M490,265 C530,215 600,180 680,165 C740,158 800,170 840,195" stroke-width="1.2" vector-effect="non-scaling-stroke"/>
<path d="M440,470 C450,400 490,330 560,290 C620,255 700,240 770,245 C820,250 860,275 880,300" stroke-width="2.1" vector-effect="non-scaling-stroke"/>
<path d="M560,560 C570,480 610,410 680,360 C720,335 780,320 830,322 C850,323 865,325 875,330" stroke-width="1.2" vector-effect="non-scaling-stroke"/>
<path d="M660,600 C670,520 710,450 770,415 C800,398 830,388 850,390" stroke-width="2.1" vector-effect="non-scaling-stroke"/>
<path d="M560,690 C600,730 660,760 730,762 C800,762 860,720 890,650 C905,600 900,540 870,480" stroke-width="2.1" vector-effect="non-scaling-stroke"/>
<path d="M1070,540 C1065,620 1040,700 990,760 C940,815 870,850 790,865 C760,870 735,875 720,880" stroke-width="2.1" vector-effect="non-scaling-stroke"/>
<path d="M1040,600 C1020,680 980,740 920,790 C880,820 840,838 800,848" stroke-width="1.2" vector-effect="non-scaling-stroke"/>
<path d="M860,380 L940,340 L1020,405 L1010,440 L930,430 L880,460 L850,420 Z" stroke-width="2.1" vector-effect="non-scaling-stroke"/>
<path d="M900,520 L980,490 L1070,530 L1080,560 L1040,640 L960,620 L920,600 L910,560 Z" stroke-width="2.1" vector-effect="non-scaling-stroke"/>
<path d="M380,690 L440,660 L480,700 L420,750 L380,720 Z" stroke-width="2.1" vector-effect="non-scaling-stroke"/>
<path d="M700,800 L760,785 L800,850 L740,880 Z M620,815 L690,795" stroke-width="2.1" vector-effect="non-scaling-stroke"/>
<path d="M550,420 C560,385 590,355 620,352 C640,360 640,400 630,440 C620,470 600,495 575,500 C550,495 545,460 550,420 Z" stroke-width="2.1" vector-effect="non-scaling-stroke"/>
<path d="M720,510 L750,520 L750,600 L700,610 L680,590 Z" stroke-width="1.2" vector-effect="non-scaling-stroke"/>
<path d="M370,58 L550,150 L535,195 M350,100 L510,190 M370,58 L350,100" stroke-width="2.1" vector-effect="non-scaling-stroke"/>
<path d="M165,130 C200,95 260,85 300,86 L340,100 M165,130 L165,230" stroke-width="2.1" vector-effect="non-scaling-stroke"/>
<path d="M190,150 L460,260 M205,210 L430,300 M190,210 L200,270" stroke-width="2.1" vector-effect="non-scaling-stroke"/>
<path d="M85,270 L300,380 L310,420 M85,270 L65,420 L75,432" stroke-width="2.1" vector-effect="non-scaling-stroke"/>
<path d="M15,440 L300,560 M20,510 L290,640 L300,700 M30,440 L20,510" stroke-width="2.1" vector-effect="non-scaling-stroke"/>
<path d="M100,300 L300,400 M40,470 L290,600" stroke-width="1.2" vector-effect="non-scaling-stroke"/>
<path d="M180,307 L300,398 M75,428 L270,533 M203,218 L420,322" stroke-width="2.1" vector-effect="non-scaling-stroke"/>
</g>
</g>
<g transform="translate(-139.5,168)">
<g fill="none" stroke="#000" stroke-linejoin="round">
<path d="M238.6,485 L300.7,516.9" stroke-width="2"/>
<path d="M238.6,485 L212.1,515.4 L212.9,522.1 L272.1,553.6" stroke-width="2"/>
<path d="M212.6,517.1 L272.1,548.6" stroke-width="1"/>
</g>
<g transform="translate(270,510) scale(0.087873)" fill="none" stroke="#000" stroke-linejoin="round" stroke-linecap="round">
<path d="M470,250 C520,190 600,140 690,132 C760,130 840,170 880,220 C895,245 905,275 905,300" stroke-width="2.1" vector-effect="non-scaling-stroke"/>
<path d="M470,250 C440,290 415,360 400,440 M330,420 C300,480 295,580 310,660 C325,730 370,800 430,835 C490,865 560,872 620,870" stroke-width="2.1" vector-effect="non-scaling-stroke"/>
<path d="M350,440 C328,520 330,620 345,690 C362,750 390,795 430,820" stroke-width="1.2" vector-effect="non-scaling-stroke"/>
<path d="M490,265 C530,215 600,180 680,165 C740,158 800,170 840,195" stroke-width="1.2" vector-effect="non-scaling-stroke"/>
<path d="M440,470 C450,400 490,330 560,290 C620,255 700,240 770,245 C820,250 860,275 880,300" stroke-width="2.1" vector-effect="non-scaling-stroke"/>
<path d="M560,560 C570,480 610,410 680,360 C720,335 780,320 830,322 C850,323 865,325 875,330" stroke-width="1.2" vector-effect="non-scaling-stroke"/>
<path d="M660,600 C670,520 710,450 770,415 C800,398 830,388 850,390" stroke-width="2.1" vector-effect="non-scaling-stroke"/>
<path d="M560,690 C600,730 660,760 730,762 C800,762 860,720 890,650 C905,600 900,540 870,480" stroke-width="2.1" vector-effect="non-scaling-stroke"/>
<path d="M1070,540 C1065,620 1040,700 990,760 C940,815 870,850 790,865 C760,870 735,875 720,880" stroke-width="2.1" vector-effect="non-scaling-stroke"/>
<path d="M1040,600 C1020,680 980,740 920,790 C880,820 840,838 800,848" stroke-width="1.2" vector-effect="non-scaling-stroke"/>
<path d="M860,380 L940,340 L1020,405 L1010,440 L930,430 L880,460 L850,420 Z" stroke-width="2.1" vector-effect="non-scaling-stroke"/>
<path d="M900,520 L980,490 L1070,530 L1080,560 L1040,640 L960,620 L920,600 L910,560 Z" stroke-width="2.1" vector-effect="non-scaling-stroke"/>
<path d="M380,690 L440,660 L480,700 L420,750 L380,720 Z" stroke-width="2.1" vector-effect="non-scaling-stroke"/>
<path d="M700,800 L760,785 L800,850 L740,880 Z M620,815 L690,795" stroke-width="2.1" vector-effect="non-scaling-stroke"/>
<path d="M550,420 C560,385 590,355 620,352 C640,360 640,400 630,440 C620,470 600,495 575,500 C550,495 545,460 550,420 Z" stroke-width="2.1" vector-effect="non-scaling-stroke"/>
<path d="M720,510 L750,520 L750,600 L700,610 L680,590 Z" stroke-width="1.2" vector-effect="non-scaling-stroke"/>
<path d="M370,58 L550,150 L535,195 M350,100 L510,190 M370,58 L350,100" stroke-width="2.1" vector-effect="non-scaling-stroke"/>
<path d="M165,130 C200,95 260,85 300,86 L340,100 M165,130 L165,230" stroke-width="2.1" vector-effect="non-scaling-stroke"/>
<path d="M190,150 L460,260 M205,210 L430,300 M190,210 L200,270" stroke-width="2.1" vector-effect="non-scaling-stroke"/>
<path d="M85,270 L300,380 L310,420 M85,270 L65,420 L75,432" stroke-width="2.1" vector-effect="non-scaling-stroke"/>
<path d="M15,440 L300,560 M20,510 L290,640 L300,700 M30,440 L20,510" stroke-width="2.1" vector-effect="non-scaling-stroke"/>
<path d="M100,300 L300,400 M40,470 L290,600" stroke-width="1.2" vector-effect="non-scaling-stroke"/>
<path d="M180,307 L300,398 M75,428 L270,533 M203,218 L420,322" stroke-width="2.1" vector-effect="non-scaling-stroke"/>
</g>
</g>
<g transform="translate(390,580) scale(0.109890)" fill="none" stroke="#000" stroke-linejoin="round" stroke-linecap="round">
<path d="M470,215 L270,95 C230,80 180,85 140,115 C95,150 75,220 80,300 C85,340 110,360 140,380 L340,490" stroke-width="2.1" vector-effect="non-scaling-stroke"/>
<path d="M160,275 C140,270 130,285 135,305 C140,320 155,322 162,315" stroke-width="2.1" vector-effect="non-scaling-stroke"/>
<path d="M500,215 L780,320 M760,335 L800,320" stroke-width="2.1" vector-effect="non-scaling-stroke"/>
<path d="M780,320 C900,340 1000,400 1050,480 C1090,560 1080,680 1030,760 C960,830 860,850 770,820 C700,790 640,740 600,700 L380,540" stroke-width="1.5" vector-effect="non-scaling-stroke"/>
<path d="M340,490 C320,400 350,290 450,240 C480,225 510,220 540,225" stroke-width="1.2" vector-effect="non-scaling-stroke"/>
<path d="M440,290 L690,430 L720,490 M370,410 L600,545 L700,530" stroke-width="2.1" vector-effect="non-scaling-stroke"/>
<path d="M740,490 L870,490 L970,545 M740,540 L750,650 L860,730" stroke-width="2.1" vector-effect="non-scaling-stroke"/>
<path d="M510,240 C560,280 570,320 575,330 M570,380 C560,430 530,480 490,500 L380,520" stroke-width="2.1" vector-effect="non-scaling-stroke"/>
<path d="M565,650 L580,700" stroke-width="1.2" vector-effect="non-scaling-stroke"/>
</g>
<path d="M483.4,655.8 L493.3,641.5" stroke="#000" stroke-width="2.5" stroke-dasharray="0.8 1.2" fill="none"/>
<g transform="translate(320,660) scale(0.087873)" fill="none" stroke="#000" stroke-linejoin="round" stroke-linecap="round">
<path d="M300,145 L835,415" stroke-width="1.9" vector-effect="non-scaling-stroke"/>
<path d="M300,145 C250,140 190,170 150,230 C110,300 110,400 140,460 L650,730" stroke-width="1.9" vector-effect="non-scaling-stroke"/>
<path d="M830,420 C950,470 1030,560 1020,660 C1010,760 930,820 830,820 C760,815 700,780 650,730" stroke-width="1.8" vector-effect="non-scaling-stroke"/>
<path d="M640,690 C520,700 430,620 440,500 C450,400 530,320 620,320 C680,320 720,350 740,380" stroke-width="1.2" vector-effect="non-scaling-stroke"/>
<path d="M235,405 C215,395 195,410 195,430 C195,450 215,460 235,450" stroke-width="1.4" vector-effect="non-scaling-stroke"/>
<path d="M605,460 C630,460 640,490 640,515 C640,545 625,570 605,570 C585,570 570,545 570,515 C570,490 585,460 605,460 Z" stroke-width="2.1" vector-effect="non-scaling-stroke"/>
<path d="M640,505 L800,500" stroke-width="2.1" vector-effect="non-scaling-stroke"/>
<path d="M740,380 L745,480" stroke-width="3" vector-effect="non-scaling-stroke"/>
<path d="M620,650 C600,670 560,680 500,680" stroke-width="2.1" vector-effect="non-scaling-stroke"/>
<path d="M650,580 L680,630" stroke-width="1.2" vector-effect="non-scaling-stroke"/>
</g>
<path d="M381,717 C386,716 390,712 390.5,706" stroke="#000" stroke-width="2.5" stroke-dasharray="0.8 1.2" fill="none"/>
<g transform="translate(255,750) scale(0.120919)" fill="none" stroke="#000" stroke-linejoin="round" stroke-linecap="round">
<path d="M430,200 L250,90 C210,75 160,85 120,120 C80,160 70,230 80,290 C90,330 110,350 140,365 L275,435" stroke-width="2.1" vector-effect="non-scaling-stroke"/>
<path d="M150,250 C135,245 120,255 122,270 C124,285 140,290 152,285" stroke-width="1.2" vector-effect="non-scaling-stroke"/>
<path d="M470,210 L800,320" stroke-width="2.1" vector-effect="non-scaling-stroke"/>
<path d="M800,320 C900,360 960,430 975,520 C985,620 950,700 880,750 C810,790 720,790 650,760 C590,730 540,680 500,630 L320,480 C300,440 300,400 310,360 C330,270 390,220 470,210" stroke-width="1.5" vector-effect="non-scaling-stroke"/>
<path d="M430,240 L600,350 L810,460 M330,390 L470,450 L510,520 M470,360 L455,420 M520,470 L660,660 M580,500 L680,570" stroke-width="2.1" vector-effect="non-scaling-stroke"/>
<path d="M730,650 L745,690 M810,490 L870,520 M340,460 L400,455 M480,230 L500,270 M520,620 L530,660" stroke-width="2.1" vector-effect="non-scaling-stroke"/>
</g>
<path d="M334.8,822.5 L348.1,809.3 M342.1,827.4 L355.4,811.7" stroke="#000" stroke-width="2.5" stroke-dasharray="0.8 1.2" fill="none"/>
<g transform="translate(190,40) scale(0.065963)" fill="none" stroke="#000" stroke-linejoin="round" stroke-linecap="round">
<path d="M398,290 C392,140 330,42 250,42 C150,42 80,200 65,450 C55,650 110,862 220,868 C270,872 305,845 325,805" stroke-width="2.1" vector-effect="non-scaling-stroke"/>
<path d="M300,125 C240,110 190,160 160,260 C130,380 125,550 145,700 C160,780 190,830 240,840" stroke-width="1.5" vector-effect="non-scaling-stroke"/>
<path d="M230,150 C200,150 185,180 195,215" stroke-width="1.5" vector-effect="non-scaling-stroke"/>
<path d="M330,115 C290,180 268,300 258,420" stroke-width="1.5" vector-effect="non-scaling-stroke"/>
<path d="M258,425 C300,350 360,310 420,298 L540,293 C580,320 605,380 608,450 L608,495" stroke-width="2.1" vector-effect="non-scaling-stroke"/>
<path d="M258,425 C228,520 238,680 300,760 C340,800 400,800 450,782 L525,742" stroke-width="2.1" vector-effect="non-scaling-stroke"/>
<path d="M590,490 L738,652 L555,722 L520,700" stroke-width="2.1" vector-effect="non-scaling-stroke"/>
<path d="M600,525 L700,640 M580,545 L660,650" stroke-width="1.2" vector-effect="non-scaling-stroke"/>
<path d="M385,445 C395,400 470,390 495,430 L502,480 L560,500 L600,560 L570,640 L505,625 L485,685 L395,692 L382,620 L392,560 L378,520 Z" stroke-width="2.1" vector-effect="non-scaling-stroke"/>
<path d="M420,470 L460,470 L470,520 L440,560 L450,640 M470,520 L540,560" stroke-width="1.5" vector-effect="non-scaling-stroke"/>
</g>
<g transform="translate(1025,310) scale(0.043956)" fill="none" stroke="#000" stroke-linejoin="round" stroke-linecap="round">
<path d="M345,235 L515,235 L700,340 L715,560 L600,760 L430,800 L260,760 L170,620 L170,430 L270,290 Z" stroke-width="2.1" vector-effect="non-scaling-stroke"/>
<path d="M300,300 C360,285 420,280 480,290 M370,340 C350,400 340,470 330,540 C310,580 280,610 190,610 M330,640 C350,700 370,740 380,780" stroke-width="2.1" vector-effect="non-scaling-stroke"/>
<path d="M520,395 C590,390 630,460 620,560 C610,640 560,690 500,680 C440,670 420,600 430,520 C440,450 470,400 520,395 Z" stroke-width="2.1" vector-effect="non-scaling-stroke"/>
<path d="M510,450 L480,600 M560,430 L530,600" stroke-width="1.2" vector-effect="non-scaling-stroke"/>
</g>
</svg>
</body></html>
